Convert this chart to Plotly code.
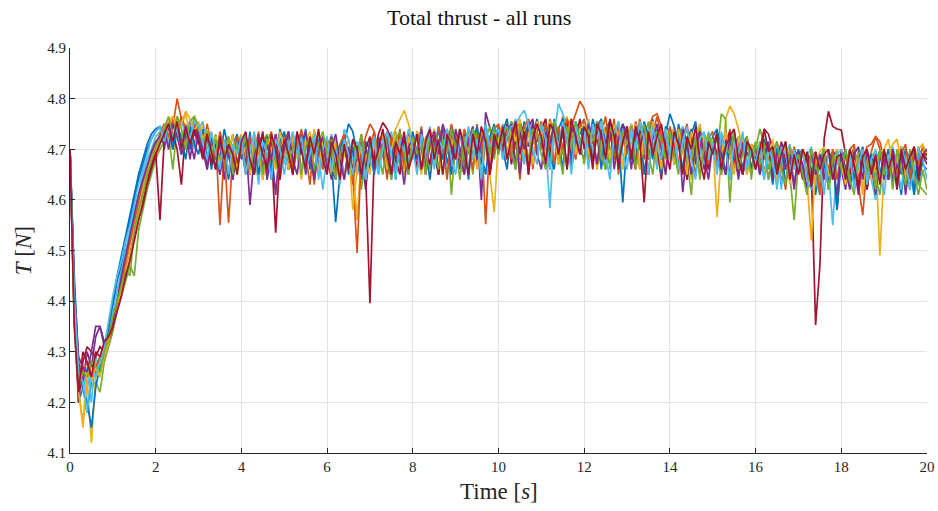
import plotly.graph_objects as go

# Total thrust of every run, sampled every 0.1 s from t = 0 to 20 s (values in mN)
time_step_s = 0.1

run01_mN = [
    4700, 4420, 4200, 4230, 4180, 4240, 4260, 4290, 4310, 4350,
    4390, 4440, 4470, 4520, 4560, 4600, 4640, 4670, 4700, 4720,
    4735, 4745, 4700, 4750, 4720, 4745, 4690, 4740, 4700, 4735,
    4745, 4690, 4725, 4660, 4715, 4680, 4740, 4700, 4640, 4715,
    4725, 4670, 4735, 4650, 4700, 4730, 4640, 4715, 4680, 4740,
    4710, 4660, 4730, 4690, 4650, 4720, 4680, 4735, 4700, 4665,
    4720, 4680, 4556, 4650, 4710, 4750, 4735, 4690, 4650, 4705,
    4660, 4720, 4670, 4700, 4735, 4640, 4705, 4670, 4725, 4690,
    4730, 4680, 4720, 4700, 4640, 4715, 4690, 4745, 4670, 4710,
    4735, 4690, 4715, 4640, 4740, 4710, 4670, 4750, 4700, 4720,
    4745, 4700, 4660, 4740, 4715, 4680, 4755, 4650, 4730, 4760,
    4720, 4755, 4680, 4760, 4725, 4660, 4750, 4710, 4740, 4690,
    4755, 4720, 4680, 4745, 4760, 4700, 4670, 4750, 4725, 4595,
    4720, 4750, 4690, 4740, 4650, 4725, 4760, 4700, 4680, 4745,
    4735, 4670, 4750, 4715, 4640, 4730, 4755, 4690, 4720, 4660,
    4725, 4740, 4680, 4715, 4640, 4730, 4700, 4660, 4720, 4695,
    4710, 4660, 4720, 4690, 4630, 4700, 4680, 4715, 4640, 4690,
    4690, 4700, 4650, 4695, 4610, 4680, 4700, 4650, 4690, 4580,
    4680, 4700, 4640, 4690, 4660, 4700, 4620, 4680, 4695, 4650,
    4690, 4640, 4700, 4660, 4610, 4690, 4670, 4700, 4630, 4680,
    4690,
]
run02_mN = [
    4700, 4360, 4260, 4270, 4230, 4280, 4250, 4290, 4280, 4320,
    4350, 4390, 4420, 4450, 4490, 4520, 4560, 4600, 4640, 4670,
    4700, 4720, 4735, 4760, 4745, 4800, 4760, 4735, 4755, 4710,
    4740, 4690, 4730, 4680, 4720, 4550, 4700, 4725, 4670, 4715,
    4690, 4730, 4660, 4705, 4725, 4640, 4715, 4735, 4670, 4700,
    4730, 4660, 4720, 4690, 4740, 4670, 4715, 4630, 4720, 4700,
    4680, 4720, 4660, 4700, 4725, 4670, 4630, 4690, 4730, 4680,
    4710, 4735, 4670, 4715, 4640, 4720, 4690, 4740, 4660, 4720,
    4730, 4690, 4745, 4670, 4720, 4735, 4650, 4730, 4700, 4750,
    4715, 4740, 4670, 4730, 4690, 4750, 4620, 4735, 4705, 4740,
    4750, 4720, 4680, 4755, 4730, 4640, 4745, 4760, 4710, 4735,
    4755, 4700, 4760, 4730, 4670, 4765, 4720, 4745, 4770, 4795,
    4780, 4750, 4710, 4755, 4680, 4740, 4715, 4760, 4650, 4735,
    4745, 4700, 4755, 4720, 4680, 4740, 4765, 4770, 4745, 4700,
    4735, 4680, 4740, 4710, 4650, 4735, 4700, 4745, 4670, 4720,
    4735, 4670, 4720, 4690, 4740, 4660, 4715, 4700, 4650, 4710,
    4690, 4715, 4650, 4700, 4680, 4710, 4630, 4695, 4670, 4705,
    4670, 4700, 4640, 4685, 4695, 4620, 4680, 4660, 4700, 4670,
    4695, 4640, 4680, 4705, 4630, 4570, 4670, 4695, 4725, 4700,
    4670, 4700, 4640, 4685, 4705, 4650, 4690, 4620, 4685, 4670,
    4700,
]
run03_mN = [
    4700, 4380, 4230, 4150, 4240, 4120, 4250, 4280, 4300, 4330,
    4370, 4400, 4440, 4470, 4510, 4540, 4580, 4620, 4660, 4690,
    4710, 4730, 4745, 4760, 4740, 4765, 4745, 4770, 4730, 4760,
    4720, 4750, 4700, 4735, 4680, 4725, 4660, 4720, 4690, 4715,
    4730, 4690, 4660, 4725, 4700, 4640, 4730, 4690, 4715, 4670,
    4720, 4735, 4680, 4710, 4660, 4725, 4690, 4740, 4650, 4715,
    4700, 4660, 4715, 4650, 4690, 4720, 4670, 4560, 4690, 4715,
    4700, 4660, 4720, 4690, 4650, 4720, 4740, 4760, 4777, 4750,
    4720, 4690, 4650, 4725, 4700, 4740, 4660, 4715, 4690, 4735,
    4720, 4680, 4740, 4660, 4715, 4695, 4735, 4700, 4650, 4576,
    4720, 4750, 4690, 4735, 4755, 4680, 4740, 4660, 4750, 4720,
    4730, 4760, 4690, 4745, 4670, 4750, 4765, 4720, 4680, 4745,
    4730, 4760, 4690, 4745, 4670, 4725, 4755, 4700, 4740, 4660,
    4725, 4750, 4690, 4660, 4740, 4715, 4755, 4680, 4735, 4650,
    4720, 4745, 4670, 4735, 4700, 4640, 4725, 4750, 4690, 4730,
    4690, 4725, 4660, 4760, 4785, 4770, 4740, 4700, 4680, 4650,
    4715, 4660, 4700, 4680, 4720, 4630, 4695, 4710, 4650, 4690,
    4650, 4695, 4670, 4630, 4690, 4660, 4700, 4620, 4680, 4700,
    4660, 4690, 4630, 4700, 4670, 4610, 4690, 4660, 4695, 4490,
    4660, 4690, 4710, 4720, 4670, 4700, 4650, 4705, 4680, 4700,
    4680,
]
run04_mN = [
    4700, 4420, 4280, 4240, 4300, 4270, 4330, 4350, 4310, 4330,
    4360, 4390, 4420, 4450, 4490, 4530, 4570, 4600, 4640, 4670,
    4690, 4715, 4720, 4745, 4700, 4750, 4690, 4740, 4680, 4735,
    4710, 4735, 4660, 4715, 4690, 4730, 4640, 4700, 4670, 4715,
    4705, 4650, 4720, 4670, 4710, 4730, 4640, 4700, 4610, 4715,
    4700, 4735, 4660, 4710, 4730, 4650, 4700, 4720, 4670, 4705,
    4690, 4640, 4700, 4660, 4720, 4680, 4700, 4650, 4690, 4620,
    4700, 4660, 4720, 4690, 4650, 4710, 4670, 4725, 4690, 4735,
    4700, 4730, 4660, 4720, 4740, 4690, 4650, 4725, 4700, 4740,
    4710, 4660, 4730, 4720, 4680, 4740, 4600, 4773, 4740, 4710,
    4700, 4740, 4680, 4725, 4750, 4650, 4730, 4705, 4755, 4690,
    4735, 4710, 4660, 4745, 4725, 4690, 4755, 4680, 4735, 4710,
    4745, 4680, 4725, 4755, 4700, 4660, 4735, 4700, 4745, 4720,
    4700, 4740, 4670, 4725, 4700, 4650, 4735, 4715, 4680, 4730,
    4710, 4680, 4730, 4615, 4700, 4735, 4670, 4720, 4660, 4710,
    4700, 4730, 4680, 4650, 4715, 4690, 4725, 4650, 4690, 4700,
    4680, 4710, 4650, 4695, 4640, 4690, 4705, 4660, 4690, 4630,
    4690, 4650, 4695, 4630, 4680, 4660, 4700, 4640, 4690, 4695,
    4660, 4620, 4690, 4670, 4610, 4685, 4700, 4650, 4680, 4695,
    4640, 4680, 4700, 4650, 4705, 4670, 4620, 4690, 4660, 4690,
    4670,
]
run05_mN = [
    4700, 4400, 4250, 4270, 4260, 4230, 4240, 4220, 4280, 4310,
    4340, 4380, 4410, 4440, 4470, 4450, 4540, 4580, 4620, 4650,
    4680, 4700, 4715, 4730, 4660, 4745, 4725, 4750, 4720, 4765,
    4740, 4700, 4745, 4690, 4730, 4670, 4720, 4650, 4710, 4690,
    4725, 4670, 4710, 4690, 4640, 4715, 4730, 4670, 4700, 4720,
    4680, 4715, 4650, 4700, 4725, 4660, 4710, 4690, 4735, 4660,
    4700, 4650, 4710, 4680, 4725, 4690, 4660, 4715, 4620, 4690,
    4680, 4720, 4690, 4650, 4720, 4695, 4735, 4660, 4705, 4725,
    4680, 4735, 4700, 4720, 4660, 4735, 4700, 4680, 4740, 4610,
    4710, 4740, 4680, 4725, 4650, 4740, 4700, 4720, 4745, 4680,
    4740, 4680, 4730, 4755, 4700, 4740, 4670, 4745, 4730, 4690,
    4750, 4720, 4670, 4755, 4735, 4690, 4745, 4760, 4700, 4735,
    4725, 4680, 4750, 4735, 4690, 4745, 4660, 4725, 4755, 4710,
    4740, 4690, 4745, 4660, 4725, 4755, 4700, 4670, 4740, 4710,
    4730, 4670, 4720, 4745, 4680, 4610, 4715, 4740, 4690, 4725,
    4710, 4690, 4770, 4760, 4595, 4720, 4690, 4730, 4660, 4710,
    4700, 4740, 4710, 4660, 4705, 4650, 4695, 4715, 4650, 4560,
    4680, 4700, 4640, 4690, 4630, 4680, 4700, 4620, 4670, 4700,
    4650, 4690, 4630, 4700, 4660, 4685, 4620, 4695, 4650, 4610,
    4690, 4640, 4700, 4660, 4685, 4620, 4700, 4660, 4630, 4620,
    4610,
]
run06_mN = [
    4700, 4410, 4250, 4220, 4270, 4200, 4290, 4260, 4300, 4340,
    4380, 4420, 4460, 4500, 4540, 4580, 4610, 4650, 4680, 4700,
    4725, 4735, 4750, 4710, 4750, 4720, 4760, 4725, 4750, 4700,
    4740, 4755, 4710, 4680, 4725, 4660, 4720, 4690, 4650, 4715,
    4700, 4730, 4660, 4715, 4630, 4720, 4690, 4660, 4730, 4700,
    4670, 4720, 4690, 4735, 4650, 4710, 4670, 4725, 4690, 4620,
    4690, 4730, 4700, 4660, 4740, 4720, 4680, 4650, 4710, 4660,
    4715, 4690, 4650, 4725, 4700, 4735, 4660, 4710, 4725, 4670,
    4730, 4690, 4740, 4660, 4720, 4700, 4745, 4720, 4650, 4715,
    4690, 4735, 4710, 4660, 4745, 4690, 4720, 4750, 4700, 4730,
    4700, 4750, 4680, 4735, 4760, 4720, 4670, 4750, 4725, 4690,
    4745, 4710, 4584, 4730, 4790, 4770, 4745, 4720, 4680, 4750,
    4720, 4755, 4690, 4740, 4710, 4660, 4745, 4725, 4680, 4740,
    4730, 4670, 4720, 4755, 4690, 4740, 4715, 4660, 4730, 4720,
    4680, 4735, 4700, 4745, 4690, 4650, 4725, 4700, 4670, 4735,
    4710, 4660, 4700, 4735, 4680, 4720, 4650, 4700, 4715, 4660,
    4705, 4680, 4640, 4710, 4670, 4715, 4620, 4690, 4710, 4660,
    4695, 4650, 4685, 4705, 4640, 4610, 4690, 4660, 4550, 4680,
    4660, 4700, 4670, 4630, 4700, 4660, 4695, 4640, 4600, 4690,
    4695, 4650, 4705, 4670, 4620, 4700, 4660, 4610, 4690, 4700,
    4700,
]
run07_mN = [
    4700, 4360, 4200, 4280, 4310, 4300, 4290, 4310, 4300, 4320,
    4350, 4390, 4420, 4460, 4490, 4530, 4570, 4610, 4640, 4670,
    4695, 4560, 4720, 4745, 4730, 4700, 4630, 4740, 4715, 4750,
    4725, 4690, 4735, 4670, 4715, 4650, 4710, 4690, 4730, 4670,
    4715, 4680, 4650, 4725, 4690, 4735, 4660, 4700, 4535, 4690,
    4715, 4660, 4725, 4690, 4735, 4670, 4715, 4640, 4700, 4720,
    4690, 4725, 4660, 4705, 4640, 4690, 4660, 4710, 4680, 4650,
    4396, 4690, 4730, 4753, 4740, 4720, 4680, 4650, 4720, 4690,
    4725, 4660, 4730, 4700, 4670, 4735, 4650, 4715, 4740, 4690,
    4730, 4680, 4650, 4735, 4710, 4670, 4740, 4720, 4650, 4710,
    4735, 4700, 4750, 4670, 4720, 4755, 4730, 4650, 4740, 4715,
    4740, 4760, 4690, 4745, 4700, 4735, 4755, 4660, 4725, 4760,
    4700, 4745, 4670, 4730, 4755, 4690, 4725, 4750, 4660, 4720,
    4745, 4700, 4660, 4735, 4720, 4680, 4750, 4705, 4640, 4725,
    4720, 4680, 4740, 4700, 4640, 4725, 4690, 4735, 4700, 4660,
    4720, 4690, 4650, 4715, 4735, 4680, 4650, 4710, 4690, 4700,
    4700, 4650, 4740, 4730, 4700, 4660, 4715, 4680, 4640, 4700,
    4680, 4640, 4695, 4660, 4353, 4470, 4720, 4775, 4745, 4740,
    4738, 4690, 4650, 4695, 4630, 4680, 4620, 4690, 4660, 4680,
    4695, 4650, 4680, 4620, 4690, 4660, 4685, 4700, 4640, 4690,
    4680,
]
run08_mN = [
    4700, 4450, 4270, 4230, 4200, 4150, 4230, 4270, 4290, 4350,
    4400, 4450, 4490, 4530, 4570, 4610, 4650, 4680, 4710, 4730,
    4740, 4745, 4725, 4755, 4700, 4750, 4720, 4680, 4745, 4710,
    4690, 4740, 4680, 4725, 4660, 4715, 4690, 4640, 4705, 4730,
    4680, 4715, 4690, 4730, 4650, 4700, 4725, 4640, 4705, 4715,
    4735, 4690, 4650, 4720, 4690, 4740, 4660, 4700, 4720, 4680,
    4715, 4660, 4640, 4700, 4725, 4650, 4705, 4690, 4640, 4715,
    4700, 4650, 4715, 4730, 4670, 4705, 4640, 4725, 4690, 4650,
    4735, 4690, 4720, 4660, 4725, 4700, 4740, 4680, 4715, 4650,
    4730, 4700, 4650, 4735, 4715, 4745, 4690, 4650, 4725, 4750,
    4690, 4735, 4760, 4700, 4660, 4745, 4720, 4755, 4680, 4730,
    4705, 4750, 4690, 4660, 4740, 4760, 4715, 4680, 4755, 4730,
    4745, 4700, 4760, 4725, 4660, 4740, 4755, 4690, 4720, 4750,
    4730, 4680, 4745, 4710, 4755, 4725, 4680, 4740, 4650, 4730,
    4770, 4745, 4715, 4660, 4720, 4740, 4690, 4650, 4730, 4700,
    4690, 4735, 4705, 4650, 4710, 4730, 4680, 4650, 4715, 4690,
    4660, 4710, 4680, 4715, 4650, 4700, 4705, 4630, 4690, 4670,
    4700, 4660, 4620, 4695, 4650, 4690, 4670, 4630, 4695, 4580,
    4690, 4650, 4700, 4640, 4680, 4705, 4650, 4690, 4620, 4700,
    4660, 4700, 4630, 4690, 4650, 4700, 4680, 4610, 4705, 4670,
    4660,
]
run09_mN = [
    4700, 4390, 4240, 4260, 4280, 4250, 4270, 4290, 4300, 4330,
    4360, 4400, 4440, 4480, 4520, 4560, 4600, 4635, 4665, 4690,
    4710, 4730, 4750, 4725, 4760, 4735, 4765, 4740, 4720, 4750,
    4735, 4700, 4750, 4710, 4680, 4735, 4700, 4555, 4690, 4725,
    4710, 4660, 4725, 4690, 4735, 4650, 4710, 4690, 4730, 4660,
    4700, 4730, 4660, 4715, 4735, 4690, 4630, 4720, 4700, 4660,
    4720, 4690, 4650, 4710, 4730, 4680, 4650, 4495, 4690, 4725,
    4750, 4735, 4690, 4710, 4650, 4725, 4690, 4735, 4660, 4715,
    4690, 4735, 4700, 4650, 4725, 4690, 4745, 4710, 4640, 4730,
    4700, 4680, 4740, 4715, 4660, 4720, 4735, 4552, 4725, 4690,
    4745, 4690, 4730, 4680, 4755, 4735, 4690, 4750, 4660, 4735,
    4700, 4750, 4725, 4670, 4745, 4700, 4760, 4735, 4680, 4745,
    4760, 4710, 4740, 4660, 4730, 4765, 4700, 4680, 4745, 4720,
    4690, 4745, 4720, 4760, 4700, 4650, 4730, 4765, 4725, 4690,
    4745, 4710, 4660, 4725, 4750, 4690, 4650, 4735, 4700, 4670,
    4715, 4680, 4730, 4705, 4650, 4720, 4690, 4715, 4660, 4700,
    4710, 4660, 4700, 4640, 4695, 4715, 4670, 4620, 4700, 4680,
    4660, 4700, 4640, 4695, 4670, 4610, 4690, 4660, 4695, 4640,
    4695, 4660, 4700, 4710, 4640, 4680, 4705, 4710, 4725, 4715,
    4680, 4640, 4700, 4650, 4690, 4710, 4640, 4700, 4670, 4705,
    4690,
]
run10_mN = [
    4700, 4370, 4220, 4160, 4260, 4240, 4270, 4250, 4290, 4320,
    4360, 4390, 4420, 4460, 4490, 4530, 4570, 4610, 4650, 4680,
    4700, 4720, 4745, 4755, 4765, 4740, 4750, 4775, 4760, 4735,
    4755, 4720, 4740, 4690, 4725, 4660, 4715, 4690, 4730, 4650,
    4720, 4690, 4650, 4730, 4700, 4640, 4720, 4700, 4660, 4735,
    4705, 4660, 4725, 4690, 4640, 4715, 4735, 4690, 4660, 4720,
    4700, 4655, 4720, 4690, 4640, 4705, 4580, 4660, 4715, 4690,
    4650, 4720, 4690, 4735, 4660, 4700, 4730, 4690, 4650, 4725,
    4690, 4735, 4660, 4720, 4700, 4740, 4690, 4650, 4725, 4705,
    4735, 4700, 4650, 4730, 4710, 4660, 4740, 4715, 4680, 4735,
    4700, 4745, 4680, 4750, 4715, 4760, 4690, 4735, 4670, 4755,
    4735, 4680, 4755, 4730, 4670, 4750, 4725, 4760, 4690, 4740,
    4750, 4690, 4735, 4660, 4755, 4730, 4680, 4750, 4725, 4660,
    4740, 4700, 4750, 4660, 4735, 4690, 4755, 4725, 4660, 4740,
    4720, 4670, 4740, 4700, 4650, 4735, 4705, 4660, 4730, 4690,
    4720, 4566, 4690, 4735, 4700, 4650, 4725, 4690, 4650, 4710,
    4690, 4715, 4650, 4690, 4715, 4640, 4685, 4705, 4630, 4690,
    4660, 4700, 4640, 4520, 4670, 4695, 4705, 4650, 4640, 4700,
    4670, 4630, 4695, 4660, 4690, 4620, 4700, 4640, 4670, 4695,
    4700, 4720, 4660, 4680, 4705, 4640, 4690, 4660, 4700, 4710,
    4690,
]
run11_mN = [
    4700, 4430, 4290, 4270, 4260, 4300, 4350, 4350, 4320, 4330,
    4360, 4400, 4450, 4490, 4530, 4570, 4610, 4640, 4670, 4695,
    4715, 4725, 4740, 4700, 4750, 4725, 4690, 4745, 4720, 4680,
    4735, 4700, 4660, 4725, 4690, 4650, 4720, 4690, 4640, 4705,
    4690, 4720, 4590, 4690, 4730, 4660, 4710, 4680, 4730, 4650,
    4700, 4735, 4680, 4650, 4715, 4735, 4690, 4640, 4705, 4725,
    4660, 4700, 4730, 4680, 4640, 4705, 4650, 4690, 4720, 4660,
    4715, 4660, 4725, 4690, 4735, 4650, 4715, 4690, 4630, 4705,
    4720, 4680, 4740, 4650, 4710, 4735, 4690, 4750, 4720, 4670,
    4740, 4700, 4650, 4720, 4745, 4680, 4715, 4740, 4660, 4710,
    4735, 4690, 4725, 4750, 4670, 4735, 4700, 4745, 4760, 4690,
    4660, 4735, 4710, 4755, 4690, 4735, 4660, 4745, 4720, 4700,
    4680, 4750, 4725, 4670, 4740, 4710, 4755, 4660, 4720, 4750,
    4720, 4660, 4735, 4700, 4745, 4680, 4720, 4750, 4700, 4650,
    4735, 4700, 4660, 4740, 4715, 4650, 4705, 4735, 4690, 4640,
    4710, 4730, 4690, 4650, 4725, 4700, 4640, 4710, 4725, 4660,
    4705, 4650, 4690, 4715, 4640, 4690, 4710, 4660, 4690, 4620,
    4695, 4670, 4620, 4700, 4650, 4690, 4640, 4700, 4670, 4610,
    4700, 4660, 4620, 4690, 4705, 4640, 4695, 4670, 4610, 4690,
    4680, 4640, 4700, 4660, 4695, 4610, 4680, 4705, 4650, 4690,
    4700,
]
run12_mN = [
    4700, 4380, 4230, 4260, 4250, 4280, 4270, 4260, 4300, 4330,
    4370, 4400, 4430, 4460, 4450, 4540, 4580, 4610, 4650, 4680,
    4705, 4720, 4740, 4765, 4720, 4765, 4740, 4700, 4755, 4765,
    4745, 4710, 4735, 4690, 4720, 4680, 4700, 4725, 4650, 4710,
    4690, 4725, 4660, 4700, 4720, 4650, 4715, 4730, 4680, 4640,
    4720, 4680, 4700, 4730, 4650, 4705, 4725, 4660, 4710, 4735,
    4690, 4720, 4640, 4690, 4710, 4660, 4720, 4680, 4730, 4640,
    4700, 4725, 4660, 4710, 4680, 4640, 4720, 4735, 4690, 4650,
    4725, 4690, 4715, 4650, 4735, 4700, 4660, 4720, 4690, 4740,
    4700, 4640, 4725, 4690, 4740, 4715, 4650, 4730, 4690, 4745,
    4690, 4725, 4745, 4700, 4660, 4750, 4720, 4680, 4740, 4730,
    4690, 4660, 4740, 4755, 4700, 4650, 4745, 4700, 4755, 4720,
    4670, 4740, 4715, 4755, 4690, 4660, 4745, 4720, 4680, 4735,
    4710, 4745, 4660, 4720, 4750, 4690, 4650, 4735, 4715, 4680,
    4735, 4690, 4650, 4720, 4740, 4680, 4725, 4640, 4710, 4730,
    4690, 4725, 4650, 4705, 4690, 4735, 4660, 4690, 4725, 4640,
    4715, 4670, 4700, 4640, 4695, 4715, 4660, 4630, 4705, 4670,
    4690, 4650, 4610, 4700, 4670, 4640, 4700, 4620, 4680, 4695,
    4660, 4700, 4640, 4610, 4690, 4700, 4650, 4680, 4620, 4700,
    4650, 4690, 4620, 4700, 4660, 4630, 4695, 4650, 4610, 4660,
    4620,
]
run13_mN = [
    4700, 4410, 4260, 4240, 4180, 4260, 4250, 4280, 4310, 4360,
    4410, 4450, 4480, 4520, 4550, 4590, 4630, 4660, 4690, 4720,
    4735, 4745, 4715, 4750, 4725, 4740, 4700, 4745, 4720, 4755,
    4745, 4715, 4680, 4735, 4690, 4660, 4720, 4650, 4710, 4690,
    4725, 4650, 4690, 4735, 4670, 4715, 4690, 4640, 4720, 4700,
    4650, 4705, 4735, 4690, 4725, 4660, 4690, 4730, 4640, 4700,
    4725, 4660, 4700, 4630, 4720, 4690, 4650, 4715, 4700, 4640,
    4690, 4725, 4650, 4700, 4735, 4690, 4640, 4720, 4695, 4740,
    4700, 4650, 4730, 4690, 4745, 4660, 4720, 4700, 4740, 4680,
    4650, 4730, 4700, 4745, 4680, 4720, 4640, 4740, 4705, 4725,
    4740, 4680, 4725, 4745, 4750, 4765, 4777, 4750, 4700, 4670,
    4750, 4720, 4660, 4740, 4700, 4755, 4720, 4650, 4745, 4700,
    4740, 4660, 4750, 4720, 4755, 4690, 4640, 4730, 4755, 4690,
    4660, 4740, 4700, 4755, 4720, 4650, 4745, 4700, 4680, 4740,
    4690, 4735, 4660, 4715, 4745, 4680, 4640, 4720, 4735, 4680,
    4715, 4650, 4735, 4700, 4640, 4715, 4690, 4735, 4660, 4700,
    4670, 4715, 4640, 4700, 4680, 4620, 4705, 4690, 4650, 4700,
    4660, 4695, 4640, 4620, 4690, 4670, 4610, 4695, 4650, 4690,
    4700, 4640, 4690, 4620, 4670, 4700, 4630, 4680, 4700, 4650,
    4610, 4690, 4670, 4640, 4700, 4680, 4620, 4660, 4700, 4680,
    4640,
]
run14_mN = [
    4700, 4350, 4220, 4300, 4280, 4250, 4300, 4290, 4320, 4330,
    4350, 4380, 4410, 4450, 4480, 4520, 4560, 4590, 4630, 4660,
    4690, 4710, 4730, 4750, 4715, 4755, 4700, 4745, 4710, 4740,
    4715, 4680, 4730, 4695, 4660, 4725, 4680, 4710, 4690, 4650,
    4715, 4735, 4680, 4650, 4720, 4690, 4660, 4730, 4700, 4640,
    4720, 4690, 4650, 4735, 4700, 4660, 4725, 4690, 4740, 4680,
    4650, 4715, 4690, 4640, 4710, 4660, 4720, 4700, 4650, 4700,
    4725, 4670, 4700, 4740, 4690, 4650, 4715, 4690, 4735, 4660,
    4690, 4730, 4660, 4715, 4740, 4680, 4720, 4650, 4730, 4705,
    4680, 4740, 4700, 4650, 4730, 4690, 4745, 4715, 4650, 4730,
    4700, 4745, 4680, 4720, 4755, 4690, 4735, 4660, 4720, 4750,
    4725, 4670, 4750, 4735, 4690, 4745, 4660, 4760, 4725, 4690,
    4745, 4725, 4660, 4750, 4730, 4680, 4760, 4725, 4670, 4715,
    4740, 4680, 4745, 4715, 4595, 4735, 4690, 4725, 4750, 4700,
    4660, 4735, 4710, 4650, 4725, 4700, 4745, 4680, 4640, 4715,
    4690, 4730, 4660, 4705, 4725, 4740, 4680, 4650, 4715, 4700,
    4660, 4700, 4740, 4695, 4705, 4650, 4690, 4715, 4640, 4690,
    4650, 4700, 4680, 4625, 4695, 4660, 4690, 4700, 4640, 4685,
    4690, 4640, 4700, 4670, 4620, 4685, 4700, 4650, 4690, 4630,
    4700, 4660, 4690, 4630, 4700, 4660, 4685, 4705, 4650, 4690,
    4690,
]

runs_mN = [
    run01_mN, run02_mN, run03_mN, run04_mN, run05_mN, run06_mN, run07_mN,
    run08_mN, run09_mN, run10_mN, run11_mN, run12_mN, run13_mN, run14_mN,
]

# MATLAB default line colour order, cycled over the runs
line_colors = ["#0072BD", "#D95319", "#EDB120", "#7E2F8E", "#77AC30", "#4DBEEE", "#A2142F"]

x_ticks = [0, 2, 4, 6, 8, 10, 12, 14, 16, 18, 20]
y_ticks = [4.1, 4.2, 4.3, 4.4, 4.5, 4.6, 4.7, 4.8, 4.9]

SERIF = "Liberation Serif, DejaVu Serif, serif"
INK = "#262626"

fig = go.Figure()
for k, run in enumerate(runs_mN):
    t = [round(i * time_step_s, 1) for i in range(len(run))]
    thrust_N = [v / 1000.0 for v in run]
    fig.add_trace(go.Scatter(
        x=t, y=thrust_N, mode="lines",
        line=dict(color=line_colors[k % len(line_colors)], width=1.7),
        showlegend=False, hoverinfo="skip",
    ))

axis_common = dict(
    showline=True, linecolor=INK, linewidth=1,
    ticks="inside", ticklen=5, tickcolor=INK, tickwidth=1,
    showgrid=True, gridcolor="#e3e3e3", gridwidth=1,
    zeroline=False, mirror=False, automargin=False,
    tickfont=dict(family=SERIF, size=15, color=INK),
)

fig.update_layout(
    width=938, height=511,
    margin=dict(l=70, r=11, t=48, b=58),
    paper_bgcolor="white", plot_bgcolor="white",
    xaxis=dict(range=[0, 20], tickvals=x_ticks, **axis_common),
    yaxis=dict(range=[4.1, 4.9], tickvals=y_ticks, tickformat=".1f", **axis_common),
    annotations=[
        dict(text="Total thrust - all runs", xref="paper", yref="paper",
             x=0.477, y=1.076, xanchor="center", yanchor="middle", showarrow=False,
             font=dict(family=SERIF, size=22, color="#111111")),
        dict(text="Time [<i>s</i>]", xref="paper", yref="paper",
             x=0.5, y=-0.094, xanchor="center", yanchor="middle", showarrow=False,
             font=dict(family=SERIF, size=23, color=INK)),
        dict(text="<i>T</i> [<i>N</i>]", xref="paper", yref="paper",
             x=-0.054, y=0.5, xanchor="center", yanchor="middle", showarrow=False,
             textangle=-90, font=dict(family=SERIF, size=23, color=INK)),
    ],
)

fig.write_html("out.html")
